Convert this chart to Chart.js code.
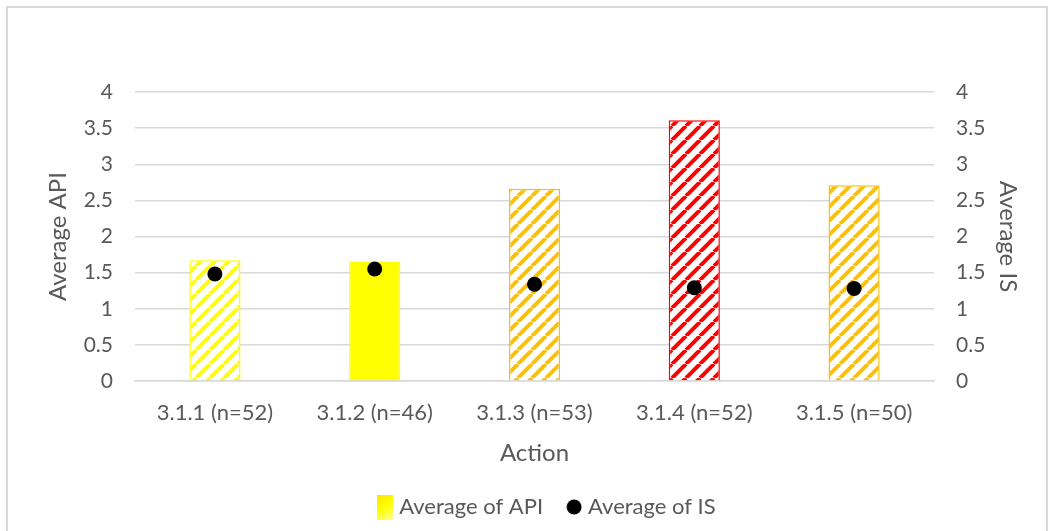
<!DOCTYPE html>
<html>
<head>
<meta charset="utf-8">
<script src="https://cdn.jsdelivr.net/npm/chart.js@4/dist/chart.umd.min.js"></script>
<style>
  html, body { margin: 0; padding: 0; background: #fff; }
  #wrap { position: relative; width: 1053px; height: 531px; overflow: hidden; }
  #frame { position: absolute; left: 6px; top: 6px; width: 1038px; height: 600px;
           border: 2px solid #d9d9d9; pointer-events: none; }
</style>
</head>
<body>
<div id="wrap">
  <canvas id="chart" width="1053" height="531"></canvas>
  <div id="frame"></div>
</div>
<script>
'use strict';

var categories = ['3.1.1 (n=52)', '3.1.2 (n=46)', '3.1.3 (n=53)', '3.1.4 (n=52)', '3.1.5 (n=50)'];
var apiValues  = [1.67, 1.65, 2.66, 3.61, 2.71];
var isValues   = [1.48, 1.55, 1.34, 1.29, 1.28];
var barColours = ['#FFFF00', '#FFFF00', '#FFC000', '#FF0000', '#FFC000'];
var hatched    = [true, false, true, true, true];
var yTicks     = [0, 0.5, 1, 1.5, 2, 2.5, 3, 3.5, 4];

var textColour = '#595959';
var gridColour = '#d9d9d9';
var fontFamily = 'Lato, "Open Sans", sans-serif';

// wide upward diagonal hatch, like the office pattern fill
function hatch(colour) {
  var size = 14;
  var c = document.createElement('canvas');
  c.width = size; c.height = size;
  var g = c.getContext('2d');
  g.fillStyle = '#fff';
  g.fillRect(0, 0, size, size);
  g.strokeStyle = colour;
  g.lineWidth = 4;
  g.beginPath();
  for (var k = -1; k <= 1; k++) {
    g.moveTo(k * size, size);
    g.lineTo(k * size + size, 0);
  }
  g.stroke();
  return g.createPattern(c, 'repeat');
}

// legend swatches: tall gradient box for the bars, small black dot for IS
function swatchBox() {
  var c = document.createElement('canvas');
  c.width = 16; c.height = 25;
  var g = c.getContext('2d');
  var gr = g.createLinearGradient(0, 0, 16, 25);
  gr.addColorStop(0, '#FFE600');
  gr.addColorStop(0.5, '#FFFF00');
  gr.addColorStop(1, '#FFFF99');
  g.fillStyle = gr;
  g.fillRect(0, 0, 16, 25);
  return c;
}
function swatchDot() {
  var c = document.createElement('canvas');
  c.width = 16; c.height = 16;
  var g = c.getContext('2d');
  g.fillStyle = '#000';
  g.beginPath();
  g.arc(8, 8, 7.5, 0, Math.PI * 2);
  g.fill();
  return c;
}

function fixedTicks(s) {
  s.ticks = yTicks.map(function (v) { return { value: v }; });
}
function plainLabel(v) { return String(v); }

// legend sits a little right of centre in the original
var legendShift = {
  id: 'legendShift',
  afterLayout: function (chart) {
    chart.legend.left += 16;
    chart.legend.right += 16;
  }
};

Chart.defaults.font.family = fontFamily;

var ctx = document.getElementById('chart').getContext('2d');
var fills = barColours.map(function (c, i) { return hatched[i] ? hatch(c) : c; });
var boxImg = swatchBox();
var dotImg = swatchDot();

new Chart(ctx, {
  data: {
    labels: categories,
    datasets: [
      {
        type: 'line',
        label: 'Average of IS',
        data: isValues,
        yAxisID: 'y2',
        showLine: false,
        pointRadius: 7.5,
        pointHoverRadius: 7.5,
        pointBackgroundColor: '#000',
        pointBorderColor: '#000',
        pointBorderWidth: 0,
        order: 0
      },
      {
        type: 'bar',
        label: 'Average of API',
        data: apiValues,
        yAxisID: 'y',
        backgroundColor: fills,
        borderColor: barColours,
        borderWidth: 1.5,
        categoryPercentage: 1,
        barPercentage: 0.32,
        order: 1
      }
    ]
  },
  plugins: [legendShift],
  options: {
    responsive: false,
    animation: false,
    layout: { padding: { top: 92, left: 44, right: 31, bottom: 3 } },
    plugins: {
      tooltip: { enabled: false },
      legend: {
        position: 'bottom',
        labels: {
          color: textColour,
          font: { size: 22 },
          usePointStyle: true,
          pointStyleWidth: 6,
          boxWidth: 16,
          boxHeight: 16,
          padding: 28,
          generateLabels: function () {
            return [
              { text: 'Average of API', fillStyle: '#FFFF00', strokeStyle: '#FFFF00', lineWidth: 0,
                pointStyle: boxImg, fontColor: textColour, datasetIndex: 1 },
              { text: 'Average of IS', fillStyle: '#000', strokeStyle: '#000', lineWidth: 0,
                pointStyle: dotImg, fontColor: textColour, datasetIndex: 0 }
            ];
          }
        }
      }
    },
    scales: {
      x: {
        afterFit: function (s) { s.height = 87; },
        grid: { display: false, drawTicks: false },
        border: { display: true, color: gridColour, width: 1.5 },
        ticks: { color: textColour, font: { size: 22 }, padding: 19 },
        title: { display: true, text: 'Action', color: textColour, font: { size: 24 }, padding: { top: 0, bottom: 0 } }
      },
      y: {
        position: 'left',
        min: 0, max: 4,
        afterBuildTicks: fixedTicks,
        afterFit: function (s) { s.width = 91; },
        grid: { color: gridColour, lineWidth: 1.5, drawTicks: false },
        border: { display: false },
        ticks: { color: textColour, font: { size: 21 }, padding: 22, callback: plainLabel },
        title: { display: true, text: 'Average API', color: textColour, font: { size: 24 }, padding: 0 }
      },
      y2: {
        position: 'right',
        min: 0, max: 4,
        afterBuildTicks: fixedTicks,
        afterFit: function (s) { s.width = 88; },
        grid: { drawOnChartArea: false, drawTicks: false },
        border: { display: false },
        ticks: { color: textColour, font: { size: 21 }, padding: 22, callback: plainLabel },
        title: { display: true, text: 'Average IS', color: textColour, font: { size: 24 }, padding: 0 }
      }
    }
  }
});
</script>
</body>
</html>
